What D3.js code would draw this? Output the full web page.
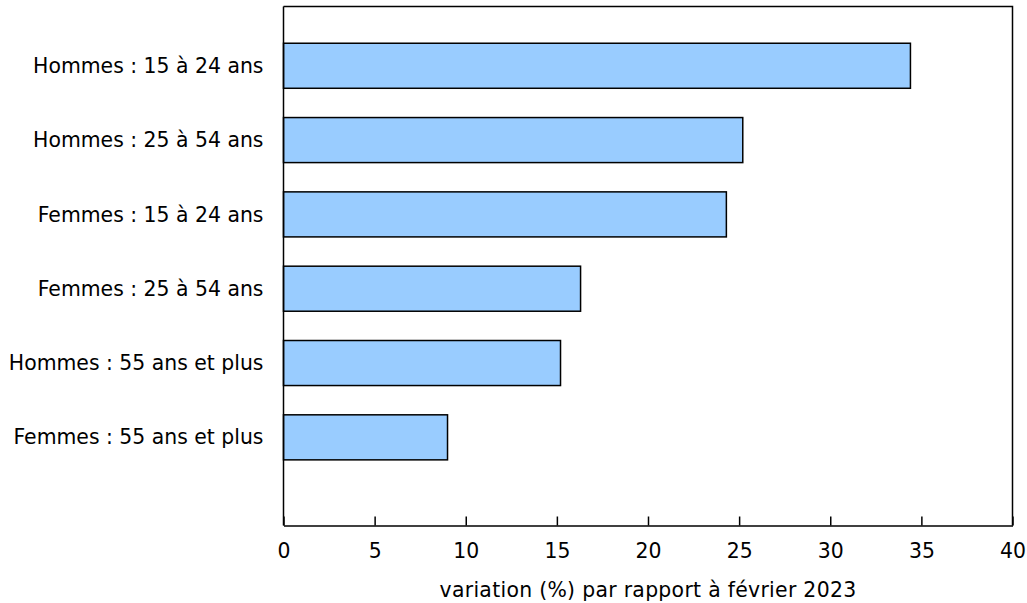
<!DOCTYPE html>
<html>
<head>
<meta charset="utf-8">
<script src="https://cdn.jsdelivr.net/npm/d3@7"></script>
<style>
  body { margin: 0; background: #fff; }
  svg text { font-family: "DejaVu Sans", Verdana, sans-serif; font-size: 20.4px; fill: #000; }
  .axis path, .axis line { stroke: #000; stroke-width: 1.5px; }
</style>
</head>
<body>
<div id="chart"></div>
<script>
'use strict';

// categories, top to bottom
var categories = [
  'Hommes : 15 à 24 ans',
  'Hommes : 25 à 54 ans',
  'Femmes : 15 à 24 ans',
  'Femmes : 25 à 54 ans',
  'Hommes : 55 ans et plus',
  'Femmes : 55 ans et plus'
];
var values = [ 34.4, 25.2, 24.3, 16.3, 15.2, 9.0 ];
var xTicks = [ 0, 5, 10, 15, 20, 25, 30, 35, 40 ];
var xLabel = 'variation (%) par rapport à février 2023';

var baseWidth = 1027,
    baseHeight = 603,
    plot = { left: 283.5, right: 1012.5, top: 6.5, bottom: 525.5 };

var svg = d3.select( '#chart' )
  .append( 'svg' )
    .attr( 'width', baseWidth )
    .attr( 'height', baseHeight );

var x = d3.scaleLinear()
    .domain( [ 0, 40 ] )
    .range( [ plot.left, plot.right ] );

// six bands, last slot below is left empty
var y = d3.scaleBand()
    .domain( categories )
    .range( [ 28.6, 474.5 ] )
    .paddingInner( 0.394 )
    .paddingOuter( 0.197 );

// bars
svg.selectAll( 'rect.bar' )
  .data( values )
  .enter().append( 'rect' )
    .attr( 'class', 'bar' )
    .attr( 'x', x( 0 ) )
    .attr( 'y', function( d, i ) { return y( categories[i] ); } )
    .attr( 'width', function( d ) { return x( d ) - x( 0 ); } )
    .attr( 'height', y.bandwidth() )
    .style( 'fill', '#99ccff' )
    .style( 'stroke', '#000' )
    .style( 'stroke-width', '1.5px' );

// frame: top and right sides
svg.append( 'path' )
  .attr( 'd', 'M' + plot.left + ',' + plot.top + 'H' + plot.right + 'V' + plot.bottom )
  .style( 'fill', 'none' )
  .style( 'stroke', '#000' )
  .style( 'stroke-width', '1.5px' );

// x axis, ticks pointing inward
var xAxis = svg.append( 'g' )
  .classed( 'axis axis__x', true )
  .attr( 'transform', 'translate(0,' + plot.bottom + ')' )
  .call( d3.axisBottom( x )
    .tickValues( xTicks )
    .tickSizeInner( -9 )
    .tickSizeOuter( 0 )
    .tickPadding( 0 )
  );
xAxis.selectAll( 'text' )
  .attr( 'y', 32 )
  .attr( 'dy', 0 );

// y axis, no ticks
var yAxis = svg.append( 'g' )
  .classed( 'axis axis__y', true )
  .attr( 'transform', 'translate(' + plot.left + ',0)' )
  .call( d3.axisLeft( y ).tickSize( 0 ).tickPadding( 20 ) );
yAxis.select( '.domain' )
  .attr( 'd', 'M0,' + plot.top + 'V' + plot.bottom );
yAxis.selectAll( 'text' )
  .attr( 'dy', '0.35em' );

// axis title
svg.append( 'text' )
  .attr( 'text-anchor', 'middle' )
  .attr( 'x', ( plot.left + plot.right ) / 2 )
  .attr( 'y', 597 )
  .style( 'letter-spacing', '0.3px' )
  .text( xLabel );
</script>
</body>
</html>
